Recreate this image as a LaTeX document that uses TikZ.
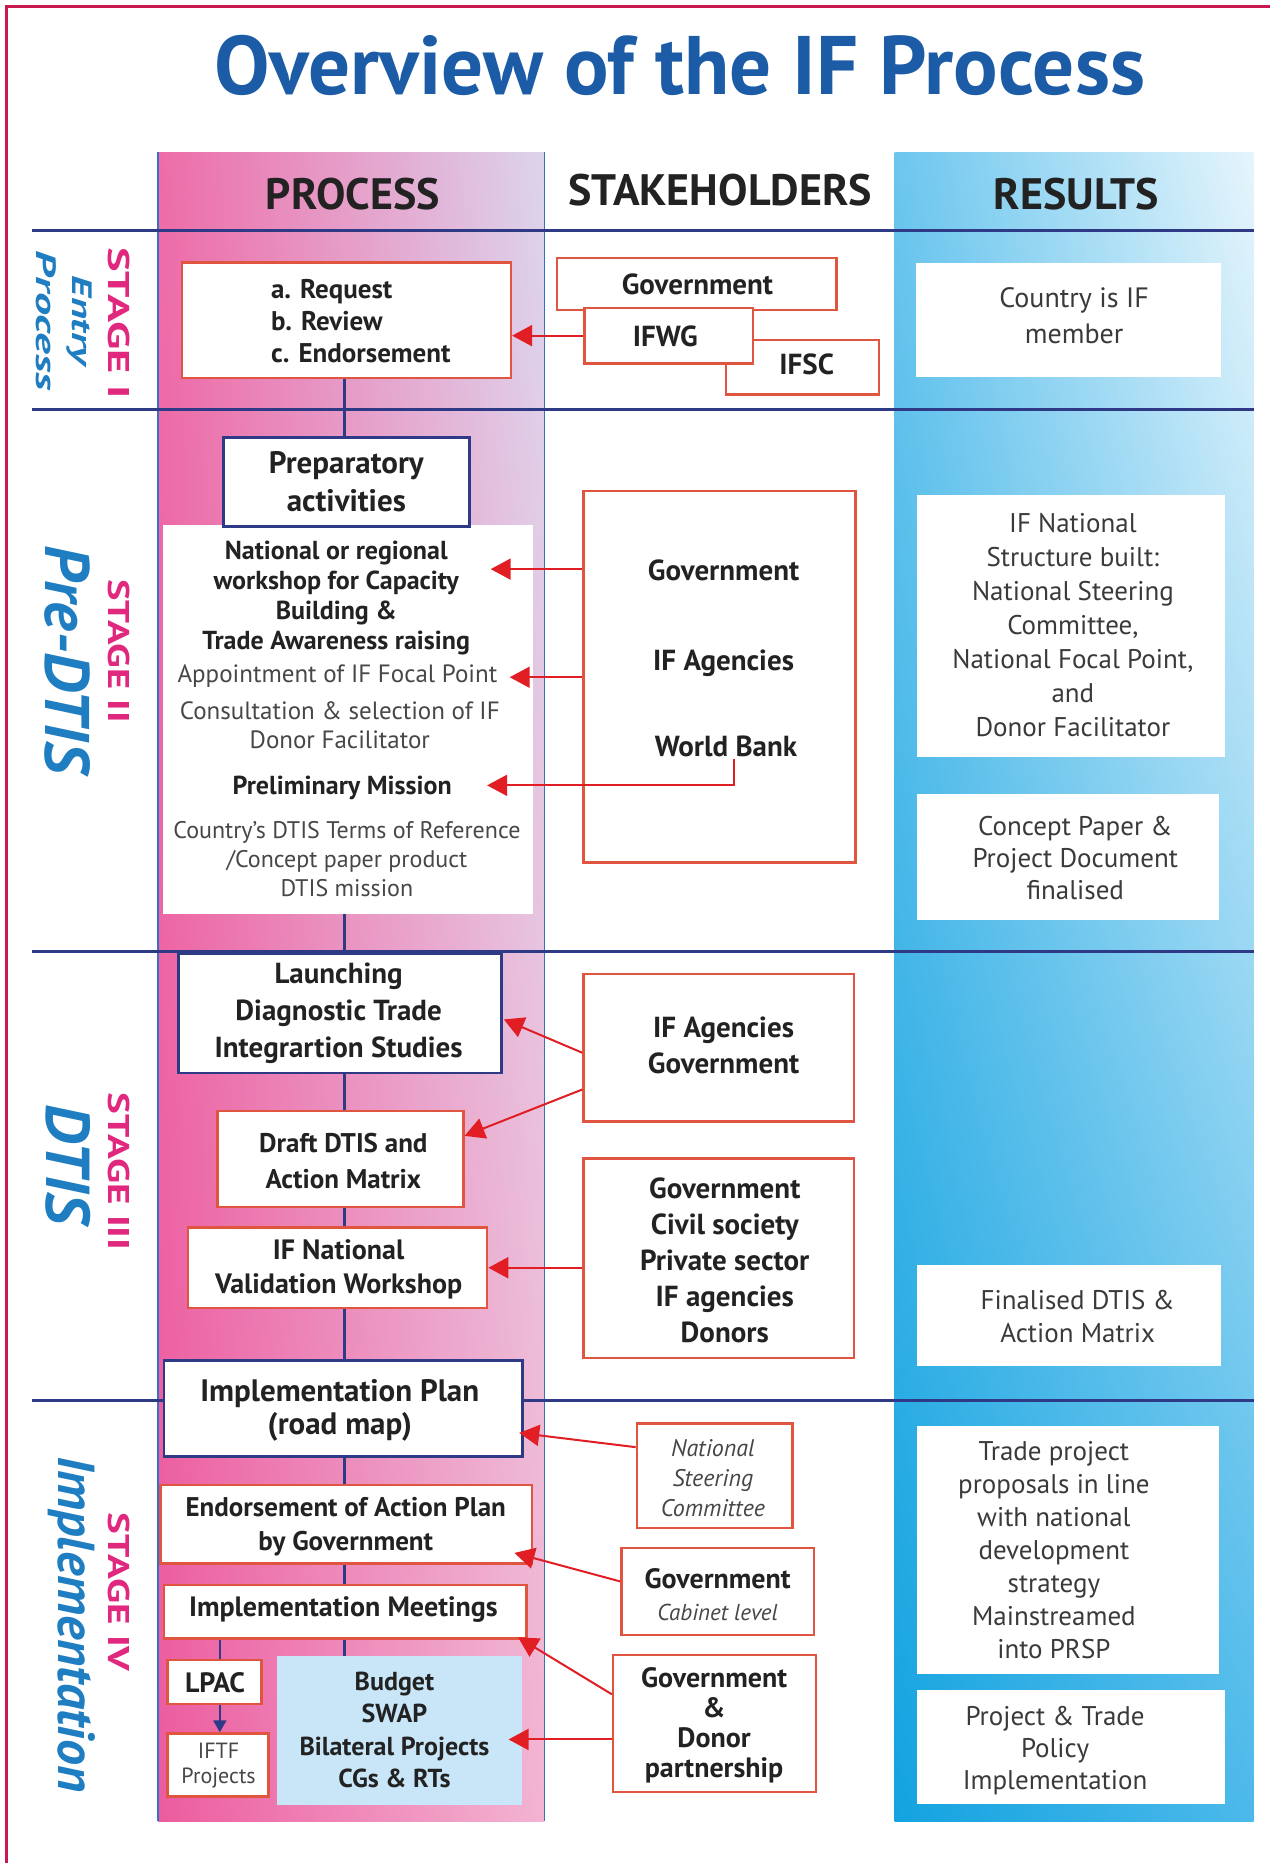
\documentclass[tikz,border=0pt]{standalone}
\usepackage{fontspec}
\setmainfont{PT Sans}
\usetikzlibrary{arrows.meta,fit,calc,shadings}
\definecolor{framered}{HTML}{C8184E}
\definecolor{navy}{HTML}{2E3A86}
\definecolor{boxred}{HTML}{E0553F}
\definecolor{arrred}{HTML}{E01E24}
\definecolor{titleblue}{HTML}{1C5BA6}
\definecolor{stagemag}{HTML}{E0287E}
\definecolor{stageblue}{HTML}{1F7DC1}
\definecolor{txt}{HTML}{222222}
\definecolor{gtxt}{HTML}{474747}
\definecolor{rtxt}{HTML}{3A3A3A}
\definecolor{thinblue}{HTML}{3A6FC4}
\definecolor{lightblue}{HTML}{C8E6F7}
\definecolor{pinkUL}{HTML}{EE6CA8}
\definecolor{pinkUR}{HTML}{DCD4EC}
\definecolor{pinkLL}{HTML}{EC5C9F}
\definecolor{pinkLR}{HTML}{F3B4D2}
\definecolor{bluUL}{HTML}{6CC6EE}
\definecolor{bluUR}{HTML}{E6F5FC}
\definecolor{bluLL}{HTML}{13A3E0}
\definecolor{bluLR}{HTML}{4CB9EA}
\newcommand\fsz[2]{\fontsize{#1pt}{#2pt}\selectfont}
\begin{document}
\begin{tikzpicture}[x=1.188pt,y=-1.188pt,
  rbox/.style={draw=boxred, line width=2.4pt, fill=white, inner sep=0pt},
  nbox/.style={draw=navy, line width=2.8pt, fill=white, inner sep=0pt},
  wbox/.style={fill=white, draw=none, inner sep=0pt},
  rarrow/.style={draw=arrred, line width=2pt, -{Triangle[length=20pt,width=21pt]}},
  narrow/.style={draw=navy, line width=2pt, -{Triangle[length=12pt,width=13pt]}},
  spineline/.style={draw=navy, line width=2.4pt},
  stagerule/.style={draw=navy, line width=3pt},
  colrule/.style={draw=thinblue, line width=1.2pt},
  tn/.style={inner sep=0pt, align=center},
  bt/.style={tn, text=txt, font=\fsz{28}{36}\bfseries},
  rt/.style={tn, text=rtxt, font=\fsz{27}{34}},
  gt/.style={tn, text=gtxt, font=\fsz{25}{29}},
  hdr/.style={tn, text=txt, font=\fsz{44}{44}\bfseries},
  stagelab/.style={rotate=-90, inner sep=0pt, text=stagemag, font=\fsz{30}{30}\bfseries},
  stagename/.style={rotate=-90, inner sep=0pt, text=stageblue, font=\bfseries\itshape}
]
\useasboundingbox (0,0) rectangle (1069,1568);
\fill[white] (0,0) rectangle (1069,1568);
% frame
\draw[framered, line width=2.2pt] (5.5,1568) -- (5.5,5.5) -- (1069,5.5);
% title
\node[tn, text=titleblue, font=\fsz{83}{90}\bfseries] (title) at (572,55) {Overview of the IF Process};
% column backgrounds
\shade[shading=bilinear interpolation, upper left=pinkUL, upper right=pinkUR, lower left=pinkLL, lower right=pinkLR] (133,128) rectangle (458,1533);
\shade[shading=bilinear interpolation, upper left=bluUL, upper right=bluUR, lower left=bluLL, lower right=bluLR] (753,128) rectangle (1055,1533);
\draw[colrule] (133,128) -- (133,1533);
\draw[colrule] (458,128) -- (458,1533);
% headers
\node[hdr] (hproc) at (297,163) {PROCESS};
\node[hdr] (hstake) at (606,160) {STAKEHOLDERS};
\node[hdr] (hres) at (906,163) {RESULTS};
% rules
\draw[stagerule] (27,194) -- (1055,194);
\draw[stagerule] (27,345) -- (1055,345);
\draw[stagerule] (27,801) -- (1055,801);
\draw[stagerule] (27,1179) -- (1055,1179);
% stage labels
\node[stagelab] (s1) at (100,272) {\scalebox{1.55}[1]{STAGE I}};
\node[stagename, font=\fsz{28}{28}\bfseries\itshape] (s1a) at (67,270) {\scalebox{1.5}[1]{Entry}};
\node[stagename, font=\fsz{28}{28}\bfseries\itshape] (s1b) at (39,270) {\scalebox{1.65}[1]{Process}};
\node[stagelab] (s2) at (100,548) {\scalebox{1.35}[1]{STAGE II}};
\node[stagename, font=\fsz{63}{63}\bfseries\itshape] (s2a) at (57,555) {Pre-DTIS};
\node[stagelab] (s3) at (100,986) {\scalebox{1.37}[1]{STAGE III}};
\node[stagename, font=\fsz{62}{62}\bfseries\itshape] (s3a) at (57,980) {DTIS};
\node[stagelab] (s4) at (100,1340) {\scalebox{1.37}[1]{STAGE IV}};
\node[stagename, font=\fsz{52}{52}\bfseries\itshape] (s4a) at (60,1367) {Implementation};
\coordinate (spine) at (290,0);
% ---------- STAGE I ----------
\node[rbox, fit={(153,221)(430,318)}] (b1) {};
\node[tn, text=txt, font=\fsz{27}{32}\bfseries, align=left, anchor=west] (b1t) at (228,270) {a. Request\\b. Review\\c. Endorsement};
\node[rbox, fit={(469,217)(704,261)}] (gov1) {};
\node[bt, font=\fsz{29}{34}\bfseries] (gov1t) at (587,239) {Government};
\node[rbox, fit={(611,286)(740,332)}] (ifsc) {};
\node[bt, font=\fsz{29}{34}\bfseries] (ifsct) at (679,307) {IFSC};
\node[rbox, fit={(492,259)(634,306)}] (ifwg) {};
\node[bt, font=\fsz{29}{34}\bfseries] (ifwgt) at (560,283) {IFWG};
\draw[rarrow] (ifwg.west) -- (b1.east |- ifwg.west);
\node[wbox, fit={(771,221)(1028,317)}] (r1) {};
\node[rt, font=\fsz{28}{36}] (r1t) at (904,266) {Country is IF\\member};
% ---------- STAGE II ----------
\fill[white] (137,442) rectangle (449,769);
\node[nbox, fit={(188,368)(395,443)}] (prep) {};
\node[bt, font=\fsz{31}{38}\bfseries] (prept) at (prep.center) {Preparatory\\activities};
\draw[spineline] (b1.south -| spine) -- (prep.north -| spine);
\node[bt, font=\fsz{26}{30}\bfseries] (ws) at (283,503) {National or regional\\workshop for Capacity\\Building \&\\Trade Awareness raising};
\node[gt] (appt) at (284,569) {Appointment of IF Focal Point};
\node[gt] (cons) at (286,610) {Consultation \& selection of IF\\Donor Facilitator};
\node[bt, font=\fsz{26}{30}\bfseries] (prelim) at (288,663) {Preliminary Mission};
\node[gt, font=\fsz{24}{29}] (ctry) at (292,723) {Country's DTIS Terms of Reference\\/Concept paper product\\DTIS mission};
\coordinate (pwbot) at (290,769);
\node[rbox, fit={(491,413)(720,726)}] (sh2) {};
\node[bt, font=\fsz{29}{34}\bfseries] (g2) at (609,480) {Government};
\node[bt, font=\fsz{29}{34}\bfseries] (ia2) at (609,558) {IF Agencies};
\node[bt, font=\fsz{29}{34}\bfseries] (wb2) at (611,628) {World Bank};
\coordinate (t1) at (413,479);
\coordinate (t2) at (429,570);
\coordinate (t3) at (410,661);
\draw[rarrow] (sh2.west |- t1) -- (t1);
\draw[rarrow] (sh2.west |- t2) -- (t2);
\draw[rarrow] ($(wb2.south -| 618,0)+(0,2)$) |- (t3);
\node[wbox, fit={(772,417)(1031,637)}] (r2a) {};
\node[rt] (r2at) at (903,526) {IF National\\Structure built:\\National Steering\\Committee,\\National Focal Point,\\and\\Donor Facilitator};
\node[wbox, fit={(772,668)(1026,774)}] (r2b) {};
\node[rt, font=\fsz{27}{32}] (r2bt) at (905,722) {Concept Paper \&\\Project Document\\finalised};
% ---------- STAGE III ----------
\node[nbox, fit={(150,803)(422,903)}] (launch) {};
\node[bt, font=\fsz{29}{37}\bfseries] (launcht) at (285,853) {Launching\\Diagnostic Trade\\Integrartion Studies};
\draw[spineline] (pwbot) -- (launch.north -| spine);
\node[rbox, fit={(183,935)(390,1016)}] (draft) {};
\node[bt, font=\fsz{27}{36}\bfseries] (draftt) at (289,977) {Draft DTIS and\\Action Matrix};
\node[rbox, fit={(158,1033)(410,1101)}] (ifnat) {};
\node[bt, font=\fsz{28}{34}\bfseries] (ifnatt) at (285,1068) {IF National\\Validation Workshop};
\draw[spineline] (launch.south -| spine) -- (draft.north -| spine);
\draw[spineline] (draft.south -| spine) -- (ifnat.north -| spine);
\node[rbox, fit={(491,820)(719,944)}] (sh3a) {};
\node[bt, font=\fsz{29}{36}\bfseries] (sh3at) at (609,880) {IF Agencies\\Government};
\node[rbox, fit={(491,975)(719,1143)}] (sh3b) {};
\node[bt, font=\fsz{29}{36}\bfseries] (sh3bt) at (610,1061) {Government\\Civil society\\Private sector\\IF agencies\\Donors};
\coordinate (t4) at (424,858);
\coordinate (t5) at (391,956);
\draw[rarrow] (sh3a.west |- 0,886) -- (t4);
\draw[rarrow] (sh3a.west |- 0,917) -- (t5);
\draw[rarrow] (sh3b.west |- ifnat.east) -- (ifnat.east);
\node[wbox, fit={(772,1065)(1028,1150)}] (r3) {};
\node[rt, font=\fsz{27}{33}] (r3t) at (907,1108) {Finalised DTIS \&\\Action Matrix};
% ---------- STAGE IV ----------
\node[nbox, fit={(138,1145)(440,1226)}] (iplan) {};
\node[bt, font=\fsz{31}{33}\bfseries] (iplant) at (286,1187) {Implementation Plan\\(road map)};
\draw[spineline] (ifnat.south -| spine) -- (iplan.north -| spine);
\node[rbox, fit={(135,1250)(448,1316)}] (endorse) {};
\node[bt, font=\fsz{27}{34}\bfseries] (endorset) at (291,1285) {Endorsement of Action Plan\\by Government};
\node[rbox, fit={(138,1334)(443,1379)}] (meet) {};
\node[bt, font=\fsz{28}{34}\bfseries] (meett) at (289,1355) {Implementation Meetings};
\node[rbox, fit={(141,1397)(220,1434)}] (lpac) {};
\node[bt, font=\fsz{28}{34}\bfseries] (lpact) at (181,1416) {LPAC};
\node[rbox, fit={(141,1459)(226,1512)}] (iftf) {};
\node[gt, font=\fsz{22}{25}] (iftft) at (184,1486) {IFTF\\Projects};
\node[fill=lightblue, draw=none, inner sep=0pt, fit={(233,1394)(439,1519)}] (budget) {};
\node[bt, font=\fsz{26}{32}\bfseries] (budgett) at (332,1456) {Budget\\SWAP\\Bilateral Projects\\CGs \& RTs};
\draw[spineline] (iplan.south -| spine) -- (endorse.north -| spine);
\draw[spineline] (endorse.south -| spine) -- (meet.north -| spine);
\draw[spineline] (meet.south -| spine) -- (budget.north -| spine);
\draw[spineline] (meet.south -| 185,0) -- (lpac.north -| 185,0);
\draw[narrow] (lpac.south -| 185,0) -- (iftf.north -| 185,0);
\node[rbox, fit={(536,1198)(667,1286)}] (sh4a) {};
\node[gt, font=\fsz{24}{30}\itshape] (sh4at) at (600,1244) {National\\Steering\\Committee};
\node[rbox, fit={(523,1303)(685,1376)}] (sh4b) {};
\node[tn, font=\fsz{28}{32}, text=txt] (sh4bt) at (604,1342) {\textbf{Government}\\{\fsz{23}{32}\itshape\color{gtxt}Cabinet level}};
\node[rbox, fit={(516,1393)(687,1508)}] (sh4c) {};
\node[bt, font=\fsz{28}{30}\bfseries] (sh4ct) at (601,1452) {Government\\\&\\Donor\\partnership};
\coordinate (t6) at (437,1206);
\coordinate (t7) at (433,1307);
\coordinate (t8) at (436,1378);
\coordinate (t9) at (428,1464);
\draw[rarrow] (sh4a.west |- 0,1218) -- (t6);
\draw[rarrow] (sh4b.west |- 0,1331) -- (t7);
\draw[rarrow] (sh4c.west |- 0,1426) -- (t8);
\draw[rarrow] (sh4c.west |- t9) -- (t9);
\node[wbox, fit={(772,1200)(1026,1409)}] (r4a) {};
\node[rt, font=\fsz{27}{33}] (r4at) at (887,1305) {Trade project\\proposals in line\\with national\\development\\strategy\\Mainstreamed\\into PRSP};
\node[wbox, fit={(772,1422)(1031,1518)}] (r4b) {};
\node[rt, font=\fsz{27}{32}] (r4bt) at (888,1473) {Project \& Trade\\Policy\\Implementation};
\end{tikzpicture}
\end{document}
